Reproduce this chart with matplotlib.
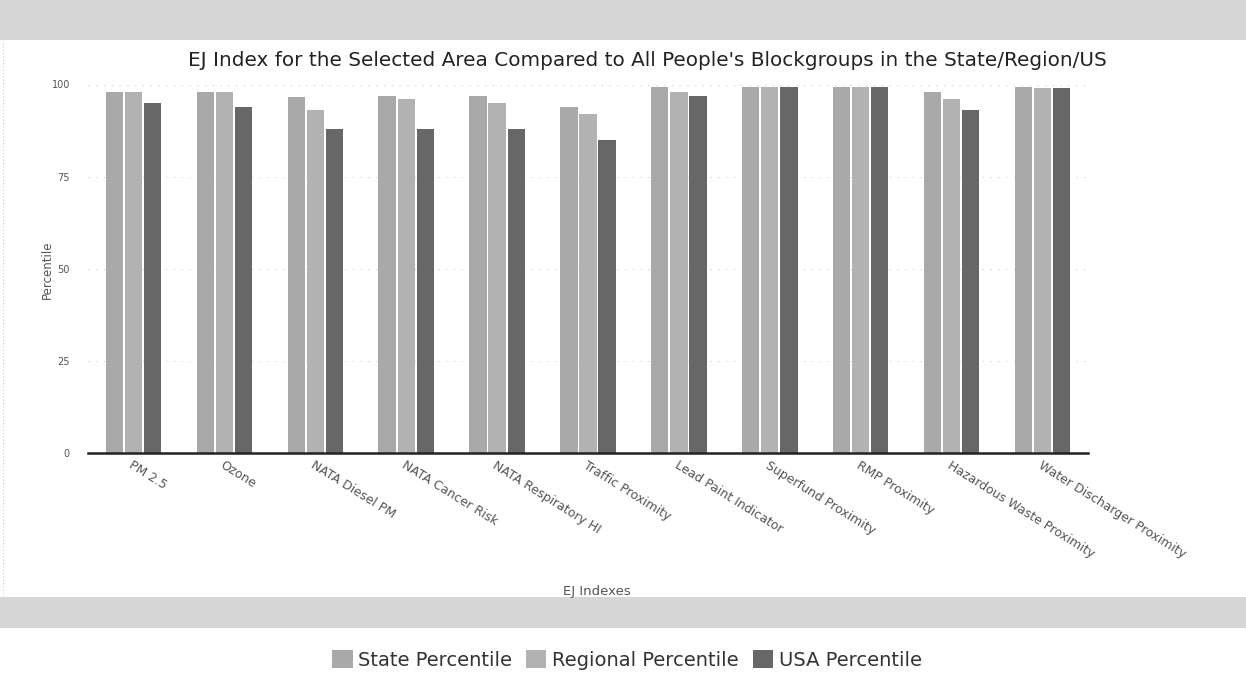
import matplotlib
matplotlib.use("Agg")
import matplotlib.pyplot as plt
from matplotlib.patches import Rectangle, Patch
import numpy as np

categories = ["PM 2.5", "Ozone", "NATA Diesel PM", "NATA Cancer Risk",
              "NATA Respiratory HI", "Traffic Proximity", "Lead Paint Indicator",
              "Superfund Proximity", "RMP Proximity", "Hazardous Waste Proximity",
              "Water Discharger Proximity"]
state_pct = [98.1, 98.1, 96.5, 96.8, 96.8, 94.0, 99.3, 99.3, 99.2, 98.1, 99.3]
regional_pct = [98.0, 98.0, 93.2, 96.1, 95.1, 91.9, 98.0, 99.2, 99.2, 96.2, 99.0]
usa_pct = [95.0, 93.8, 87.9, 87.9, 87.9, 84.9, 96.8, 99.2, 99.2, 93.2, 99.1]
series_names = ["State Percentile", "Regional Percentile", "USA Percentile"]
yticks = [0, 25, 50, 75, 100]

colors = ["#a9a9a9", "#b2b2b2", "#676767"]

W, H = 1246, 675
fig = plt.figure(figsize=(W / 100, H / 100), dpi=100)
fig.patch.set_facecolor("white")

# grey bands (top and bottom)
fig.patches.append(Rectangle((0, 1 - 40 / H), 1, 40 / H, transform=fig.transFigure,
                             facecolor="#d6d6d6", edgecolor="none", zorder=0))
fig.patches.append(Rectangle((0, 1 - 628 / H), 1, 31 / H, transform=fig.transFigure,
                             facecolor="#d6d6d6", edgecolor="none", zorder=0))
# faint left border
fig.lines.append(plt.Line2D([3 / W, 3 / W], [1 - 597 / H, 1 - 40 / H], transform=fig.transFigure,
                            color="#c8c8c8", lw=0.8, linestyle=(0, (1, 2))))

left, right = 88 / W, 1088 / W
bottom, top = 1 - 453.3 / H, 1 - 84.5 / H
ax = fig.add_axes([left, bottom, right - left, top - bottom])

x = np.arange(len(categories))
w = 0.19
off = 0.21
for i, (vals, c) in enumerate(zip([state_pct, regional_pct, usa_pct], colors)):
    ax.bar(x + (i - 1) * off, vals, width=w, color=c, zorder=2, label=series_names[i])

ax.set_xlim(-0.5, len(categories) - 0.5)
ax.set_ylim(0, 100)
ax.set_yticks(yticks)
ax.set_yticklabels([str(t) for t in yticks], fontsize=7, color="#555555")
ax.tick_params(axis="y", length=0, pad=13)
ax.tick_params(axis="x", length=0, pad=4)
ax.set_xticks(x)
ax.set_xticklabels(categories, rotation=-32, ha="left", va="top",
                   rotation_mode="anchor", fontsize=9, color="#555555")
for s in ["top", "right", "left"]:
    ax.spines[s].set_visible(False)
ax.spines["bottom"].set_color("#222222")
ax.spines["bottom"].set_linewidth(1.8)
ax.yaxis.grid(True, color="#cccccc", linestyle=(0, (1, 6)), lw=0.8, zorder=0)
ax.set_axisbelow(True)

fig.text(47 / W, 1 - 270 / H, "Percentile", ha="center", va="center", rotation=90,
         fontsize=8.5, color="#555555")
fig.text(597 / W, 1 - 591 / H, "EJ Indexes", ha="center", va="center",
         fontsize=9.5, color="#555555")

fig.text(647 / W, 1 - 60 / H,
         "EJ Index for the Selected Area Compared to All People's Blockgroups in the State/Region/US",
         ha="center", va="center", fontsize=14.4, color="#222222")

handles = [Patch(facecolor=c, edgecolor="none") for c in colors]
fig.legend(handles, series_names, loc="center", bbox_to_anchor=(627 / W, 1 - 660 / H),
           ncol=3, frameon=False, fontsize=14, handlelength=1.05, handleheight=1.05,
           handletextpad=0.3, columnspacing=0.7, labelcolor="#333333")

fig.savefig("out.png", dpi=100)
